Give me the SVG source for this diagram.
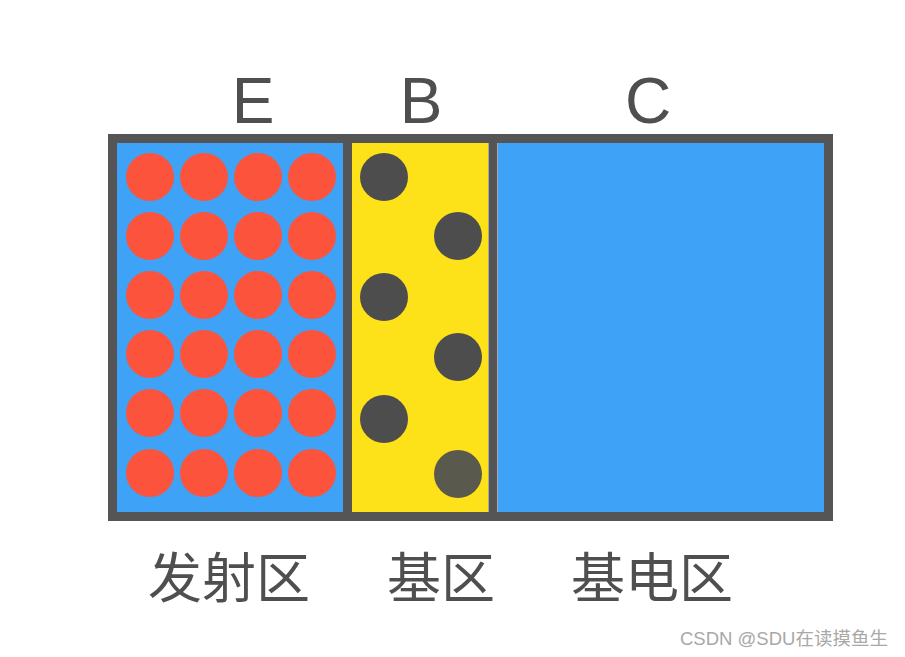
<svg xmlns="http://www.w3.org/2000/svg" width="905" height="657" viewBox="0 0 905 657">
<style>
.lbl{font-family:"Liberation Sans",Arial,sans-serif;font-size:64px;fill:#4f4f4f;text-anchor:middle}
.cn{font-family:"Noto Sans CJK SC","Liberation Sans",sans-serif;font-size:54px;fill:#4f4f4f;text-anchor:middle}
.e{fill:#fc543c}
.h{fill:#4d4d4d}
.wm{font-family:"Liberation Sans","Noto Sans CJK SC",sans-serif;font-size:18.5px;fill:#a8a8a8}
</style>
<rect width="905" height="657" fill="#ffffff"/>
<g id="emitter">
<rect x="117" y="143" width="226" height="369" fill="#3ea2f7"/>
<g>
<circle class="e" cx="150" cy="177" r="24"/><circle class="e" cx="204" cy="177" r="24"/><circle class="e" cx="258" cy="177" r="24"/><circle class="e" cx="312" cy="177" r="24"/>
<circle class="e" cx="150" cy="236" r="24"/><circle class="e" cx="204" cy="236" r="24"/><circle class="e" cx="258" cy="236" r="24"/><circle class="e" cx="312" cy="236" r="24"/>
<circle class="e" cx="150" cy="295" r="24"/><circle class="e" cx="204" cy="295" r="24"/><circle class="e" cx="258" cy="295" r="24"/><circle class="e" cx="312" cy="295" r="24"/>
<circle class="e" cx="150" cy="354" r="24"/><circle class="e" cx="204" cy="354" r="24"/><circle class="e" cx="258" cy="354" r="24"/><circle class="e" cx="312" cy="354" r="24"/>
<circle class="e" cx="150" cy="413" r="24"/><circle class="e" cx="204" cy="413" r="24"/><circle class="e" cx="258" cy="413" r="24"/><circle class="e" cx="312" cy="413" r="24"/>
<circle class="e" cx="150" cy="473" r="24"/><circle class="e" cx="204" cy="473" r="24"/><circle class="e" cx="258" cy="473" r="24"/><circle class="e" cx="312" cy="473" r="24"/>
</g>
<text class="lbl" x="253" y="123">E</text>
<text class="cn" x="229" y="598">发射区</text>
</g>
<g id="base">
<rect x="352" y="143" width="136" height="369" fill="#fde21a"/>
<circle class="h" cx="384" cy="177" r="24"/>
<circle class="h" cx="458" cy="236" r="24"/>
<circle class="h" cx="384" cy="297" r="24"/>
<circle class="h" cx="458" cy="357" r="24"/>
<circle class="h" cx="384" cy="419" r="24"/>
<circle cx="458" cy="474" r="24" fill="#5a594e"/>
<text class="lbl" x="421" y="123">B</text>
<text class="cn" x="441" y="598">基区</text>
</g>
<g id="collector">
<rect x="498" y="143" width="326" height="369" fill="#3ea2f7"/>
<text class="lbl" x="648" y="123">C</text>
<text class="cn" x="652" y="598">基电区</text>
</g>
<g id="frame" fill="none" stroke="#555555" stroke-width="9">
<rect x="112.5" y="138.5" width="716" height="378"/>
<line x1="347.5" y1="139" x2="347.5" y2="516"/>
<line x1="493" y1="139" x2="493" y2="516"/>
</g>
<text class="wm" x="680" y="645">CSDN @SDU在读摸鱼生</text>
</svg>
